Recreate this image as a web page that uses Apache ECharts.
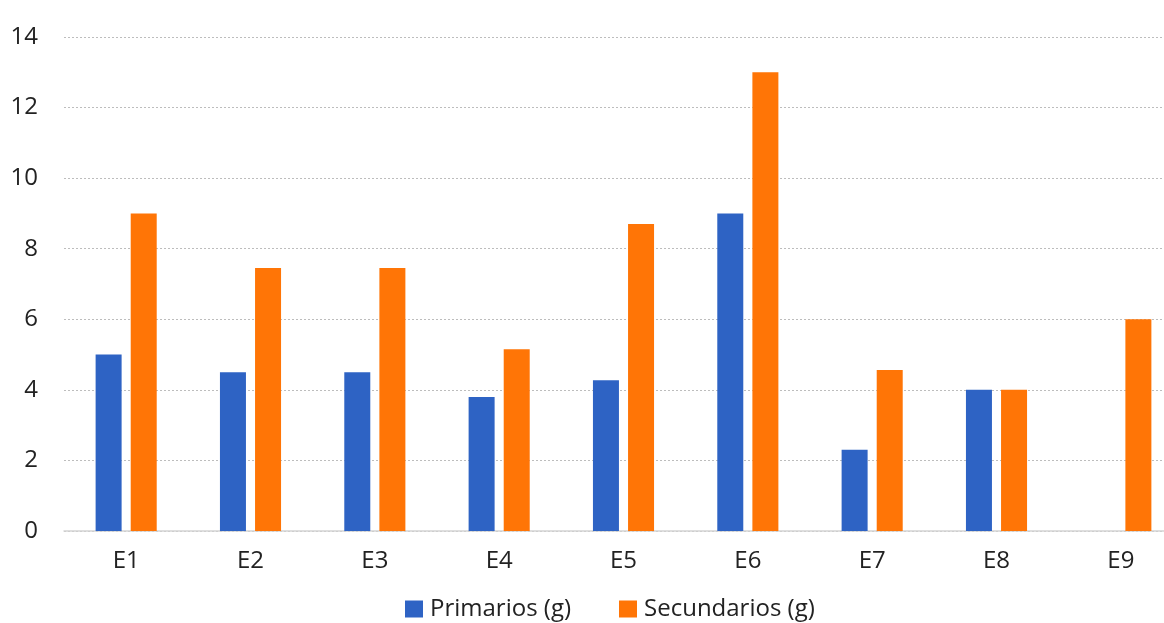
<!DOCTYPE html>
<html><head><meta charset="utf-8">
<script src="https://cdn.jsdelivr.net/npm/echarts@6/dist/echarts.min.js"></script>
<style>html,body{margin:0;padding:0;background:#fff}#c{width:1164px;height:623px}</style>
</head><body><div id="c"></div>
<script>
const categories = ['E1','E2','E3','E4','E5','E6','E7','E8','E9'];
const primarios = [5, 4.5, 4.5, 3.8, 4.27, 9, 2.3, 4, 0];
const secundarios = [9, 7.45, 7.45, 5.15, 8.7, 13, 4.56, 4, 6];
const yTicks = {min: 0, max: 14, interval: 2};
const FONT = '"Open Sans", sans-serif';
const chart = echarts.init(document.getElementById('c'));
chart.setOption({
  animation: false,
  textStyle: {fontFamily: FONT},
  grid: {left: 64, right: -19, top: 37, bottom: 92, containLabel: false, outerBoundsMode: 'none'},
  legend: {
    left: 405, top: 597, padding: 0, itemWidth: 18, itemHeight: 17, itemGap: 48,
    icon: 'rect',
    textStyle: {fontSize: 24, color: '#222', fontFamily: FONT, padding: [0, 0, 0, 2]},
    data: ['Primarios (g)', 'Secundarios (g)']
  },
  xAxis: {
    type: 'category', data: categories,
    axisLine: {lineStyle: {color: '#d4d4d4', width: 1.5}},
    axisTick: {show: false},
    axisLabel: {fontSize: 24, color: '#222', margin: 18, fontFamily: FONT}
  },
  yAxis: {
    type: 'value', min: yTicks.min, max: yTicks.max, interval: yTicks.interval,
    axisLine: {show: false}, axisTick: {show: false},
    axisLabel: {fontSize: 24, color: '#222', margin: 26, fontFamily: FONT},
    splitLine: {lineStyle: {color: '#bdbdbd', type: [2, 2], width: 1}}
  },
  series: [
    {name: 'Primarios (g)', type: 'bar', data: primarios, barWidth: 26, barGap: '35%',
     itemStyle: {color: '#2e63c4'}},
    {name: 'Secundarios (g)', type: 'bar', data: secundarios, barWidth: 26,
     itemStyle: {color: '#ff7506'}}
  ]
});
</script></body></html>
